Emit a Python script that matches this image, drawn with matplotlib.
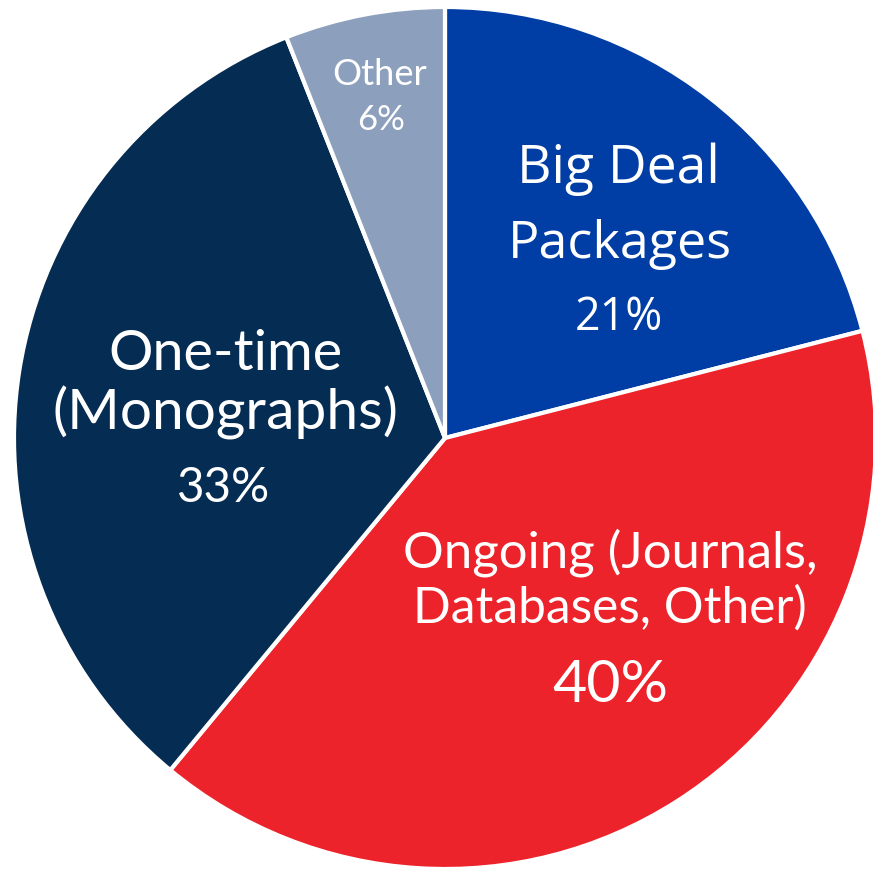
import matplotlib.pyplot as plt

# Data
categories = ["Big Deal Packages", "Ongoing (Journals, Databases, Other)",
              "One-time (Monographs)", "Other"]
shares = [21, 40, 33, 6]
colors = ["#003DA5", "#EC232A", "#052C52", "#8CA0BD"]

# label lines per slice: (text, baseline px y, center px x, target width px, font)
label_lines = [
    ("Big Deal", 183, 618, 203, "Open Sans"),
    ("Packages", 258, 620, 223, "Open Sans"),
    ("21%", 330, 619, 88, "Open Sans"),
    ("Ongoing (Journals,", 568, 610, 415, "Lato"),
    ("Databases, Other)", 623, 610, 394, "Lato"),
    ("40%", 702, 610, 116, "Lato"),
    ("One-time", 370, 225, 235, "Lato"),
    ("(Monographs)", 430, 225, 345, "Lato"),
    ("33%", 502, 224, 93, "Lato"),
    ("Other", 85, 380, 95, "Lato"),
    ("6%", 130, 381, 48, "Lato"),
]

W = 873
cx, cy, R = 445, 438, 431

fig = plt.figure(figsize=(8.73, 8.73), dpi=100)
ax = fig.add_axes([0, 0, 1, 1])

ax.pie(
    shares,
    colors=colors,
    startangle=90,
    counterclock=False,
    radius=1,
    wedgeprops=dict(edgecolor="white", linewidth=3),
)

ax.set_xlim(-cx / R, (W - cx) / R)
ax.set_ylim(-(W - cy) / R, cy / R)
ax.set_aspect("equal")
ax.axis("off")

# Labels, sized to match the original widths
fig.canvas.draw()
renderer = fig.canvas.get_renderer()
for text, py, px, width, font in label_lines:
    t = ax.text((px - cx) / R, (cy - py) / R, text, ha="center", va="baseline",
                color="white", fontsize=20, family=font)
    w = t.get_window_extent(renderer).width
    t.set_fontsize(20 * width / w)

plt.savefig("out.png", dpi=100, facecolor="white")
